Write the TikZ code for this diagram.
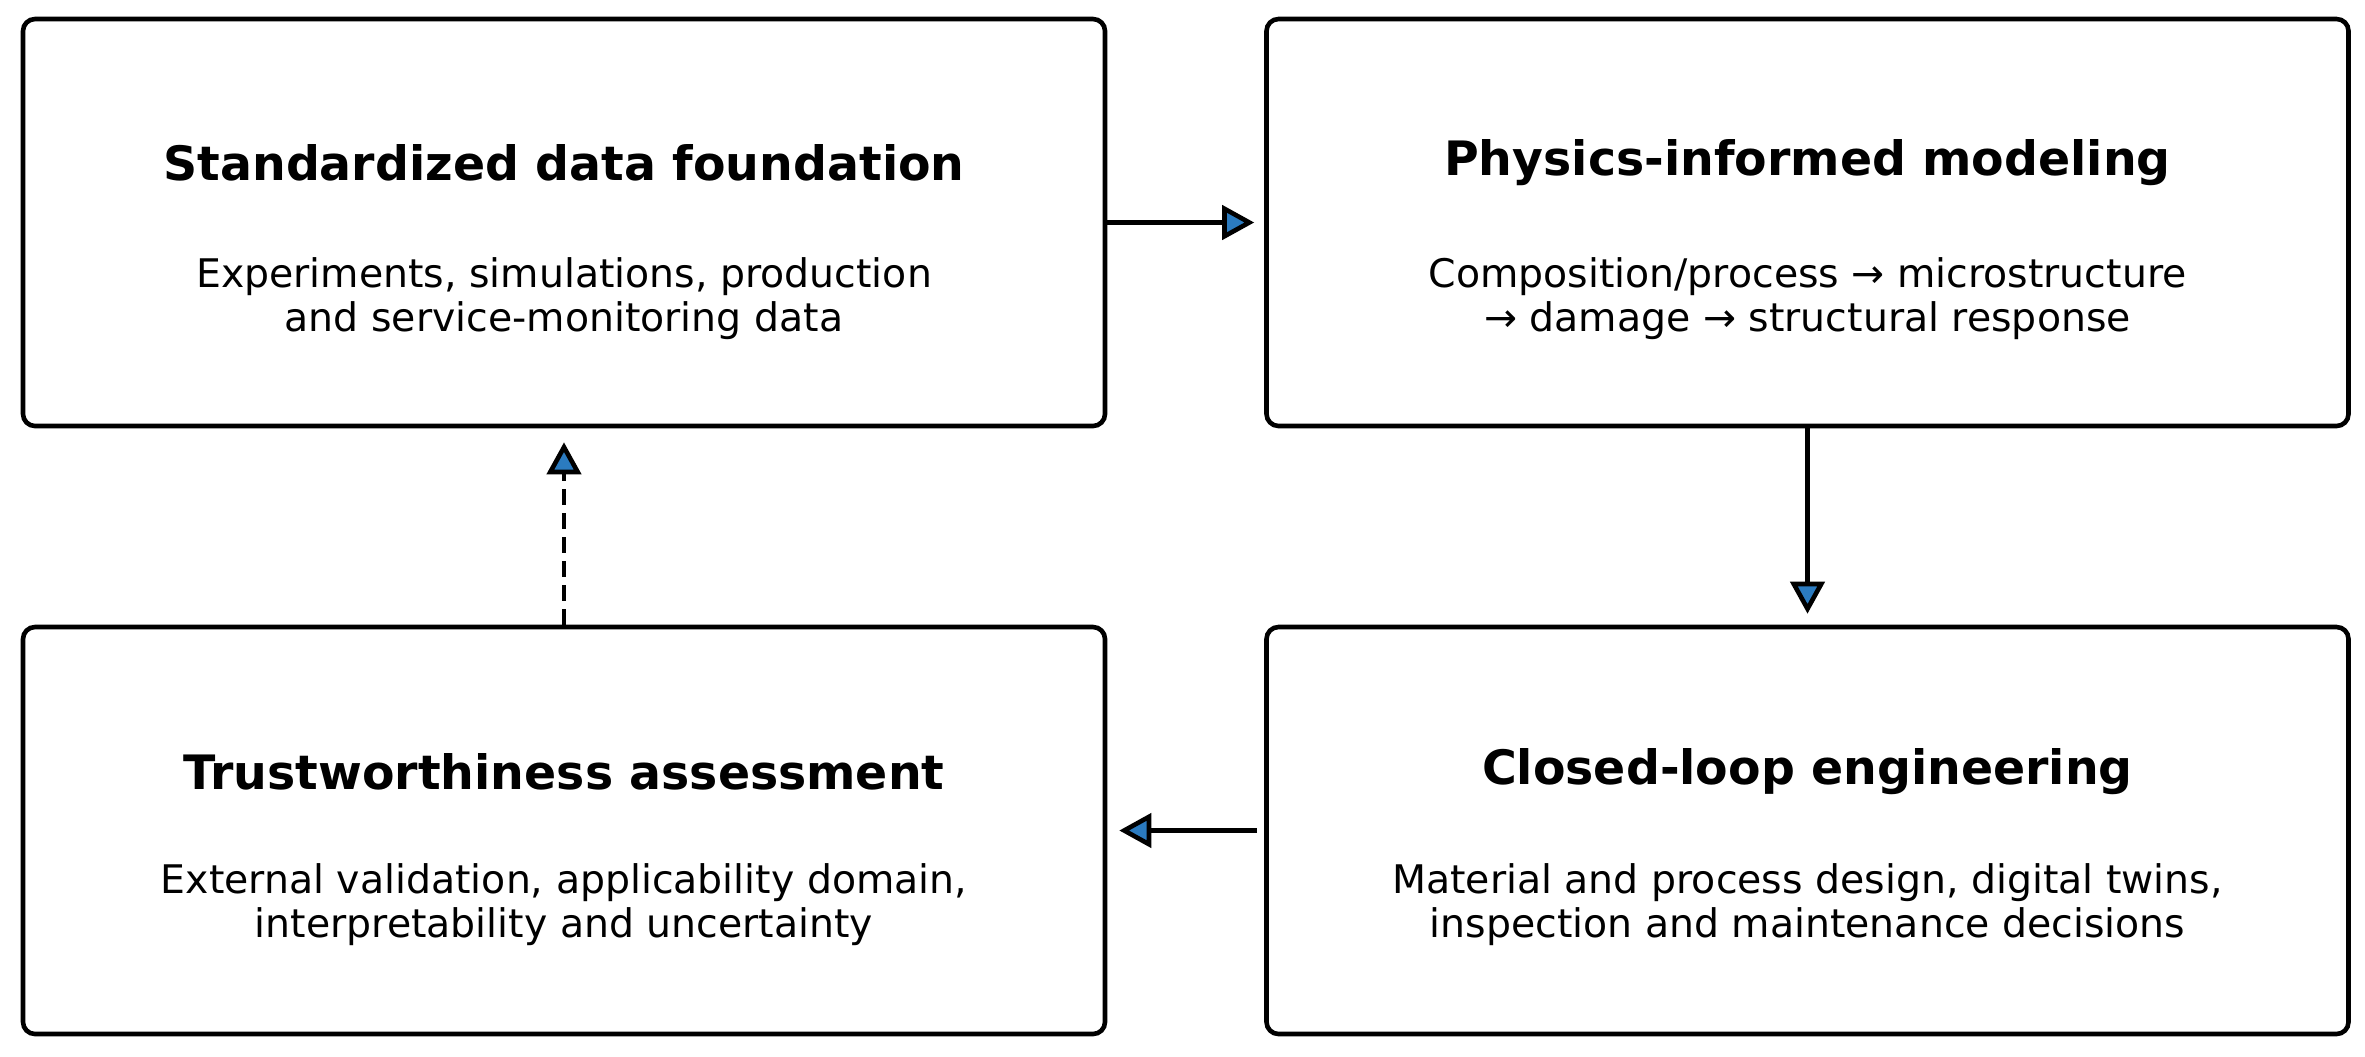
\documentclass[tikz,border=0pt]{standalone}
\usepackage{fontspec}
\setmainfont{DejaVu Sans}
\usetikzlibrary{arrows.meta,calc}
\definecolor{tipblue}{HTML}{2B7BC0}
\begin{document}
\begin{tikzpicture}[x=0.5pt,y=-0.5pt,
 box/.style={draw=black, line width=2.3pt, rounded corners=6pt, minimum width=541pt, minimum height=203.5pt, inner sep=0pt},
 ttl/.style={font=\bfseries\fontsize{23.7}{28}\selectfont, inner sep=0pt},
 body/.style={font=\fontsize{19.7}{22}\selectfont, align=center, inner sep=0pt},
 conn/.style={line width=2.3pt, -{Triangle[length=16pt,width=17pt,fill=tipblue]}}]
\useasboundingbox (0,0) rectangle (2365,1056);
\node[box] (b1) at (564,222.5) {};
\node[box] (b2) at (1807.5,222.5) {};
\node[box] (b3) at (564,830.5) {};
\node[box] (b4) at (1807.5,830.5) {};
\node[ttl] (t1) at ($(b1.center)+(0,-60)$) {Standardized data foundation};
\node[body] (d1) at ($(b1.center)+(0,76.5)$) {Experiments, simulations, production\\and service-monitoring data};
\node[ttl] (t2) at ($(b2.center)+(0,-60)$) {Physics-informed modeling};
\node[body] (d2) at ($(b2.center)+(0,76.5)$) {Composition/process → microstructure\\→ damage → structural response};
\node[ttl] (t3) at ($(b3.center)+(0,-59)$) {Trustworthiness assessment};
\node[body] (d3) at ($(b3.center)+(0,74.5)$) {External validation, applicability domain,\\interpretability and uncertainty};
\node[ttl] (t4) at ($(b4.center)+(0,-59)$) {Closed-loop engineering};
\node[body] (d4) at ($(b4.center)+(0,74.5)$) {Material and process design, digital twins,\\inspection and maintenance decisions};
\draw[conn, shorten >=5pt] (b1.east) -- (b2.west);
\draw[conn, shorten >=5.5pt] (b2.south) -- (b4.north);
\draw[conn, shorten <=3.5pt, shorten >=6pt] (b4.west) -- (b3.east);
\draw[conn, dash pattern=on 8pt off 4pt, shorten >=7pt] (b3.north) -- (b1.south);
\end{tikzpicture}
\end{document}
